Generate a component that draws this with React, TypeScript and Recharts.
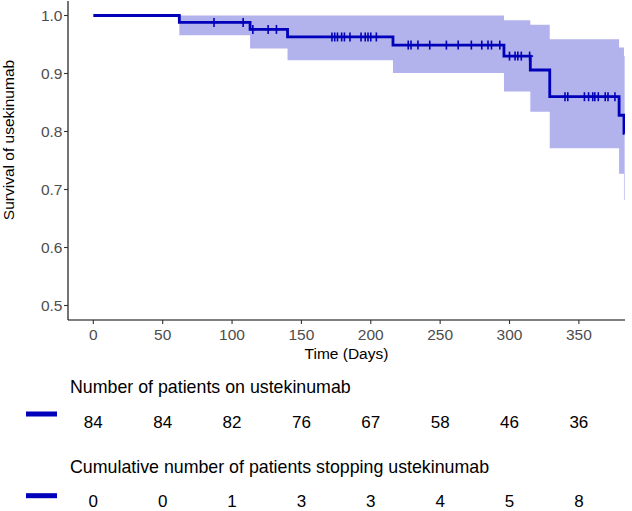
import React from "react";
import {
  ComposedChart,
  Line,
  Area,
  Scatter,
  XAxis,
  YAxis,
} from "recharts";

// Kaplan-Meier step data (event times, survival, CI lower, CI upper)
const eventTimes = [0, 62, 113, 140, 216, 296, 315, 329, 379, 382.5, 383];
const survival = [1, 0.988, 0.976, 0.963, 0.949, 0.93, 0.906, 0.86, 0.828, 0.797, 0.797];
const ciLower = [1, 0.966, 0.943, 0.923, 0.901, 0.869, 0.834, 0.771, 0.727, 0.682, 0.682];
const ciUpper = [1, 1, 1, 1, 1, 0.992, 0.984, 0.959, 0.945, 0.93, 0.93];

// Censoring times
const censorTimes = [
  87, 108, 115, 126, 132, 172, 174, 176, 179, 181, 185, 193, 196, 198, 200, 204,
  227, 229, 234, 242.5, 254.5, 263, 272.5, 280, 284.5, 287, 293,
  300, 304, 306, 308.5, 314.5,
  340, 342, 354, 357, 360, 361.5, 364, 369, 371, 376,
];

// Axis ticks
const xTicks = [0, 50, 100, 150, 200, 250, 300, 350];
const yTicks = [0.5, 0.6, 0.7, 0.8, 0.9, 1.0];

// Risk table
const riskTimes = [0, 50, 100, 150, 200, 250, 300, 350];
const nAtRisk = [84, 84, 82, 76, 67, 58, 46, 36];
const cumEvents = [0, 0, 1, 3, 3, 4, 5, 8];

const X_DOMAIN: [number, number] = [-18.25, 383.25];
const Y_DOMAIN: [number, number] = [0.475, 1.025];

const LINE_COLOR = "#0000BA";
const FILL_COLOR = "#B2B2EC";
const FONT = '"Liberation Sans", Arial, Helvetica, sans-serif';

const kmData = eventTimes.map((t, i) => ({
  t,
  s: survival[i],
  band: [ciLower[i], ciUpper[i]],
}));

function survAt(t: number): number {
  let s = 1;
  for (let i = 0; i < eventTimes.length; i++) {
    if (eventTimes[i] <= t) s = survival[i];
  }
  return s;
}

const censorData = censorTimes.map((t) => ({ t, s: survAt(t) }));

const tableData = [
  ...riskTimes.map((t, i) => ({ t, row: 1, label: String(nAtRisk[i]) })),
  ...riskTimes.map((t, i) => ({ t, row: 0, label: String(cumEvents[i]) })),
];

const CensorMark = (props: any) => {
  const { cx, cy } = props;
  if (cx == null || cy == null) return null;
  return (
    <g>
      <line x1={cx} x2={cx} y1={cy - 4.5} y2={cy + 4.5} stroke={LINE_COLOR} strokeWidth={1.6} />
      <line x1={cx - 3.5} x2={cx + 3.5} y1={cy} y2={cy} stroke={LINE_COLOR} strokeWidth={1.6} />
    </g>
  );
};

const TableText = (props: any) => {
  const { cx, cy, payload } = props;
  if (cx == null || cy == null) return null;
  return (
    <text x={cx} y={cy + 6} textAnchor="middle" fontSize={17} fill="#000" fontFamily={FONT}>
      {payload.label}
    </text>
  );
};

const XTitle = (props: any) => {
  const vb = props.viewBox || { x: 68, y: 320, width: 557, height: 50 };
  return (
    <text x={vb.x + vb.width / 2} y={vb.y + 39} textAnchor="middle" fontSize={15.5} fill="#000" fontFamily={FONT}>
      Time (Days)
    </text>
  );
};

const YTitle = () => {
  return (
    <text
      x={13.5}
      y={140}
      transform="rotate(-90 13.5 140)"
      textAnchor="middle"
      fontSize={15.5}
      fill="#000"
      fontFamily={FONT}
    >
      Survival of usekinumab
    </text>
  );
};

export default function App() {
  return (
    <div
      style={{
        position: "absolute",
        left: 0,
        top: 0,
        width: 632,
        height: 511,
        background: "#fff",
        fontFamily: FONT,
        overflow: "hidden",
      }}
    >
      <div style={{ position: "absolute", left: 0, top: 0 }}>
        <ComposedChart
          width={632}
          height={370}
          data={kmData}
          margin={{ top: 1, right: 7, bottom: 0, left: 0 }}
        >
          <XAxis
            dataKey="t"
            type="number"
            domain={X_DOMAIN}
            ticks={xTicks}
            allowDataOverflow
            height={50}
            axisLine={{ stroke: "#000", strokeWidth: 1.1 }}
            tickLine={{ stroke: "#333", strokeWidth: 1.1 }}
            tickSize={4}
            tickMargin={5}
            tick={{ fill: "#4D4D4D", fontSize: 15.5, fontFamily: FONT }}
            label={<XTitle />}
          />
          <YAxis
            type="number"
            domain={Y_DOMAIN}
            ticks={yTicks}
            allowDataOverflow
            width={68}
            axisLine={{ stroke: "#000", strokeWidth: 1.1 }}
            tickLine={{ stroke: "#333", strokeWidth: 1.1 }}
            tickSize={4}
            tickMargin={1.5}
            tickFormatter={(v: number) => v.toFixed(1)}
            tick={{ fill: "#4D4D4D", fontSize: 15.5, fontFamily: FONT }}
            label={<YTitle />}
          />
          <Area
            dataKey="band"
            type="stepAfter"
            stroke="none"
            fill={FILL_COLOR}
            fillOpacity={1}
            isAnimationActive={false}
            activeDot={false}
            dot={false}
          />
          <Line
            dataKey="s"
            type="stepAfter"
            stroke={LINE_COLOR}
            strokeWidth={2.8}
            dot={false}
            activeDot={false}
            isAnimationActive={false}
          />
          <Scatter
            data={censorData}
            dataKey="s"
            shape={<CensorMark />}
            isAnimationActive={false}
          />
        </ComposedChart>
      </div>

      <div style={{ position: "absolute", left: 0, top: 370 }}>
        <ComposedChart
          width={632}
          height={141}
          data={tableData}
          margin={{ top: 52, right: 7, bottom: 10, left: 68 }}
        >
          <XAxis dataKey="t" type="number" domain={X_DOMAIN} allowDataOverflow hide />
          <YAxis type="number" domain={[0, 1]} hide />
          <Scatter dataKey="row" shape={<TableText />} isAnimationActive={false} />
        </ComposedChart>
      </div>

      <svg
        width={632}
        height={511}
        style={{ position: "absolute", left: 0, top: 0, pointerEvents: "none" }}
      >
        <text x={70} y={392.5} fontSize={17.8} fill="#000" fontFamily={FONT}>
          Number of patients on ustekinumab
        </text>
        <text x={70} y={473.3} fontSize={17.8} fill="#000" fontFamily={FONT}>
          Cumulative number of patients stopping ustekinumab
        </text>
        <rect x={26} y={411.5} width={31} height={5} fill={LINE_COLOR} />
        <rect x={26} y={493.2} width={31} height={5} fill={LINE_COLOR} />
      </svg>
    </div>
  );
}
